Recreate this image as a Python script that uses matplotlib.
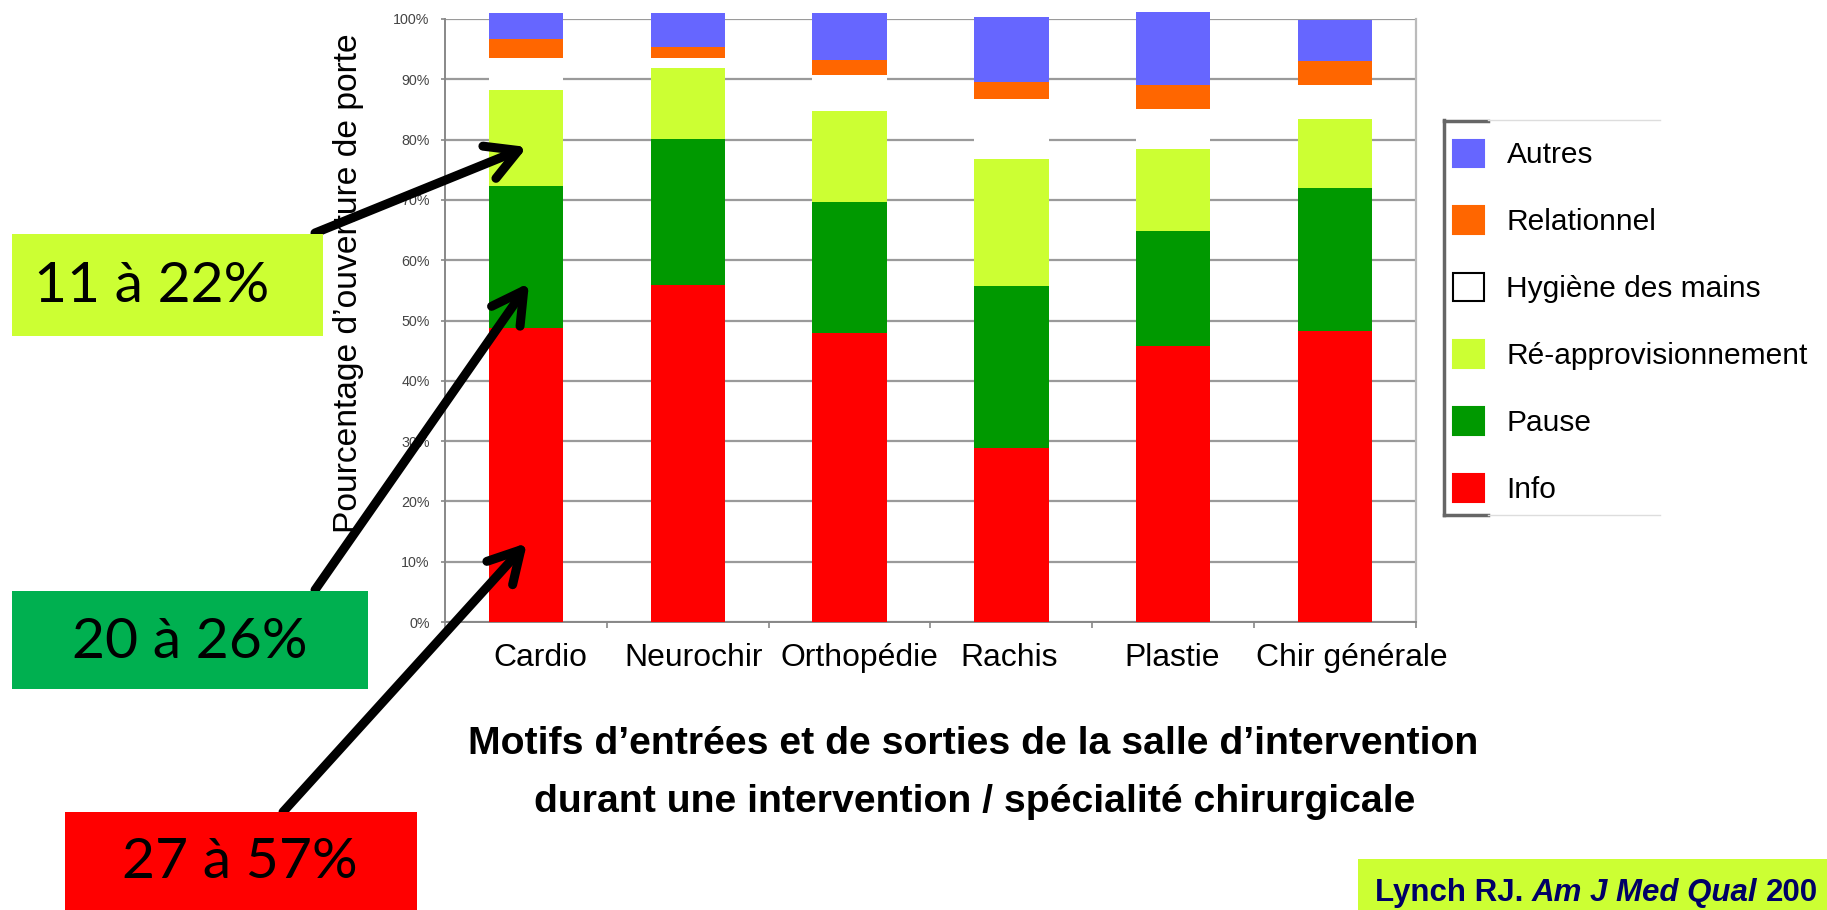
import matplotlib
matplotlib.use('Agg')
import matplotlib.pyplot as plt
from matplotlib import font_manager
from matplotlib.patches import Patch, Rectangle
from matplotlib.lines import Line2D
import matplotlib.transforms as mtransforms
import numpy as np

# ---------------- data ----------------
categories = ['Cardio', 'Neurochir', 'Orthopédie', 'Rachis', 'Plastie', 'Chir générale']
info        = [48.8, 55.9, 47.9, 28.9, 45.8, 48.3]
pause       = [23.5, 24.2, 21.7, 26.9, 19.1, 23.7]
reappro     = [15.9, 11.8, 15.1, 20.9, 13.6, 11.4]
hygiene     = [5.3, 1.7, 6.0, 10.1, 6.5, 5.6]
relationnel = [3.2, 1.8, 2.5, 2.7, 4.0, 4.1]
autres      = [4.3, 5.6, 7.8, 10.9, 12.1, 6.8]

series_names = ['Info', 'Pause', 'Ré-approvisionnement', 'Hygiène des mains', 'Relationnel', 'Autres']
series_values = [info, pause, reappro, hygiene, relationnel, autres]
series_colors = ['#FF0000', '#009900', '#CCFF33', '#FFFFFF', '#FF6600', '#6666FF']

yticks = [0, 10, 20, 30, 40, 50, 60, 70, 80, 90, 100]
ytick_labels = ['0%', '10%', '20%', '30%', '40%', '50%', '60%', '70%', '80%', '90%', '100%']

ylabel = 'Pourcentage d’ouverture de porte'
title_lines = ['Motifs d’entrées et de sorties de la salle d’intervention',
               'durant une intervention / spécialité chirurgicale']
box_texts = ['11 à 22%', '20 à 26%', '27 à 57%']
box_colors = ['#CCFF33', '#00B050', '#FF0000']
citation_parts = ['Lynch RJ.', 'Am J Med Qual', '200']

# ---------------- fonts ----------------
names = {f.name for f in font_manager.fontManager.ttflist}
if 'Liberation Sans Narrow' in names:
    NARROW = ['Liberation Sans Narrow', 'DejaVu Sans']
    ns = 1.0
else:
    NARROW = ['Liberation Sans', 'DejaVu Sans']
    ns = 0.82
ARIAL = ['Liberation Sans', 'DejaVu Sans']
CALIBRI = ['Lato', 'DejaVu Sans']

W, H = 1827, 910
fig = plt.figure(figsize=(W / 100, H / 100), dpi=100)
fig.patch.set_facecolor('white')

def fx(x):
    return x / W

def fy(y):
    return 1 - y / H

# ---------------- axes ----------------
ax = fig.add_axes([fx(445), fy(622), (1416 - 445) / W, (622 - 19) / H])
x = np.arange(len(categories))
bottom = np.zeros(len(categories))
for name, vals, col in zip(series_names, series_values, series_colors):
    ax.bar(x, vals, width=0.46, bottom=bottom, color=col, edgecolor='none',
           zorder=3, clip_on=False, label=name)
    bottom += np.array(vals)

ax.set_xlim(-0.5, len(categories) - 0.5)
ax.set_ylim(0, 100)
ax.set_yticks(yticks)
ax.set_yticklabels(ytick_labels, family=NARROW, fontsize=12.5 * ns, color='#444444')
ax.set_xticks(x)
ax.set_xticklabels(categories, family=NARROW, fontsize=28 * ns, color='black')
ax.set_xticks(np.arange(len(categories) + 1) - 0.5, minor=True)
ax.tick_params(axis='x', which='major', length=0, pad=15)
ax.tick_params(axis='x', which='minor', length=4, color='#888888', width=1.2)
ax.tick_params(axis='y', length=3, color='#888888', width=1.2, pad=8)
ax.yaxis.grid(True, color='#9A9A9A', linewidth=1.6, zorder=0)
ax.set_axisbelow(True)
ax.spines['top'].set_visible(False)
ax.spines['left'].set_color('#888888')
ax.spines['left'].set_linewidth(1.4)
ax.spines['bottom'].set_color('#888888')
ax.spines['bottom'].set_linewidth(1.4)
ax.spines['right'].set_color('#BBBBBB')
ax.spines['right'].set_linewidth(1.6)

# small horizontal offsets of the category labels (pixels), as in the reference
label_dx = [14, 6, 10, -2, -1, 17]
for lab, dx in zip(ax.get_xticklabels(), label_dx):
    lab.set_transform(lab.get_transform() +
                      mtransforms.ScaledTranslation(dx / 100, 0, fig.dpi_scale_trans))

# ---------------- y label & title ----------------
fig.text(fx(348), fy(283), ylabel, rotation=90, ha='center', va='center',
         family=NARROW, fontsize=29.5 * ns, color='black')
fig.text(fx(973), fy(744), title_lines[0], ha='center', va='center',
         family=NARROW, fontsize=34.5 * ns, fontweight='bold', color='black')
fig.text(fx(975), fy(802), title_lines[1], ha='center', va='center',
         family=NARROW, fontsize=34.5 * ns, fontweight='bold', color='black')

# ---------------- legend ----------------
leg_order = [5, 4, 3, 2, 1, 0]
handles = []
for i in leg_order:
    ec = 'black' if series_colors[i] == '#FFFFFF' else series_colors[i]
    handles.append(Patch(facecolor=series_colors[i], edgecolor=ec, linewidth=1.5))
leg = fig.legend(handles, [series_names[i] for i in leg_order],
                 loc='upper left', bbox_to_anchor=(fx(1453), fy(139.5)),
                 frameon=False, prop={'family': NARROW, 'size': 21.5},
                 handlelength=1.04, handleheight=1.04, handletextpad=0.75,
                 labelspacing=1.24, borderaxespad=0, borderpad=0)
# legend frame remnants
fig.add_artist(Line2D([fx(1444), fx(1444)], [fy(120), fy(515)], color='#666666', lw=2.5))
fig.add_artist(Line2D([fx(1444), fx(1488)], [fy(515), fy(515)], color='#666666', lw=2.5))
fig.add_artist(Line2D([fx(1444), fx(1488)], [fy(121), fy(121)], color='#666666', lw=2.5))
fig.add_artist(Line2D([fx(1488), fx(1660)], [fy(120), fy(120)], color='#DDDDDD', lw=1))
fig.add_artist(Line2D([fx(1488), fx(1660)], [fy(515), fy(515)], color='#DDDDDD', lw=1))

# ---------------- annotation boxes ----------------
boxes = [(12, 234, 323, 336), (12, 591, 368, 689), (65, 812, 417, 910)]
text_x = [152, 190, 240]
for (x0, y0, x1, y1), txt, col, tx in zip(boxes, box_texts, box_colors, text_x):
    fig.add_artist(Rectangle((fx(x0), fy(y1)), (x1 - x0) / W, (y1 - y0) / H,
                             facecolor=col, edgecolor='none', transform=fig.transFigure))
    fig.text(fx(tx), fy((y0 + y1) / 2 + 2), txt, ha='center', va='center',
             family=CALIBRI, fontsize=41, color='black')

# ---------------- arrows ----------------
arrows = [((315, 233), (527, 147)), ((315, 590), (529, 283)), ((283, 812), (527, 543))]
for (tx_, ty_), (hx, hy) in arrows:
    ax.annotate('', xy=(hx, H - hy), xytext=(tx_, H - ty_),
                xycoords='figure pixels', textcoords='figure pixels',
                arrowprops=dict(arrowstyle='->,head_length=0.9,head_width=0.5',
                                lw=6.5, color='black', mutation_scale=25,
                                shrinkA=0, shrinkB=0),
                annotation_clip=False, zorder=10)

# ---------------- citation ----------------
fig.add_artist(Rectangle((fx(1358), 0), (W - 1358) / W, (910 - 859) / H,
                         facecolor='#CCFF33', edgecolor='none', transform=fig.transFigure))
cite_size = 22.5
gap = 0.278 * cite_size * 100 / 72
styles = ['normal', 'italic', 'normal']
fig.canvas.draw()
renderer = fig.canvas.get_renderer()
cx = 1375
for part, st in zip(citation_parts, styles):
    t = fig.text(fx(cx), fy(901), part, ha='left', va='baseline', family=ARIAL,
                 fontsize=cite_size, fontweight='bold', fontstyle=st, color='#000066')
    bb = t.get_window_extent(renderer)
    cx = bb.x1 + gap

fig.savefig('out.png', dpi=100, facecolor='white')
